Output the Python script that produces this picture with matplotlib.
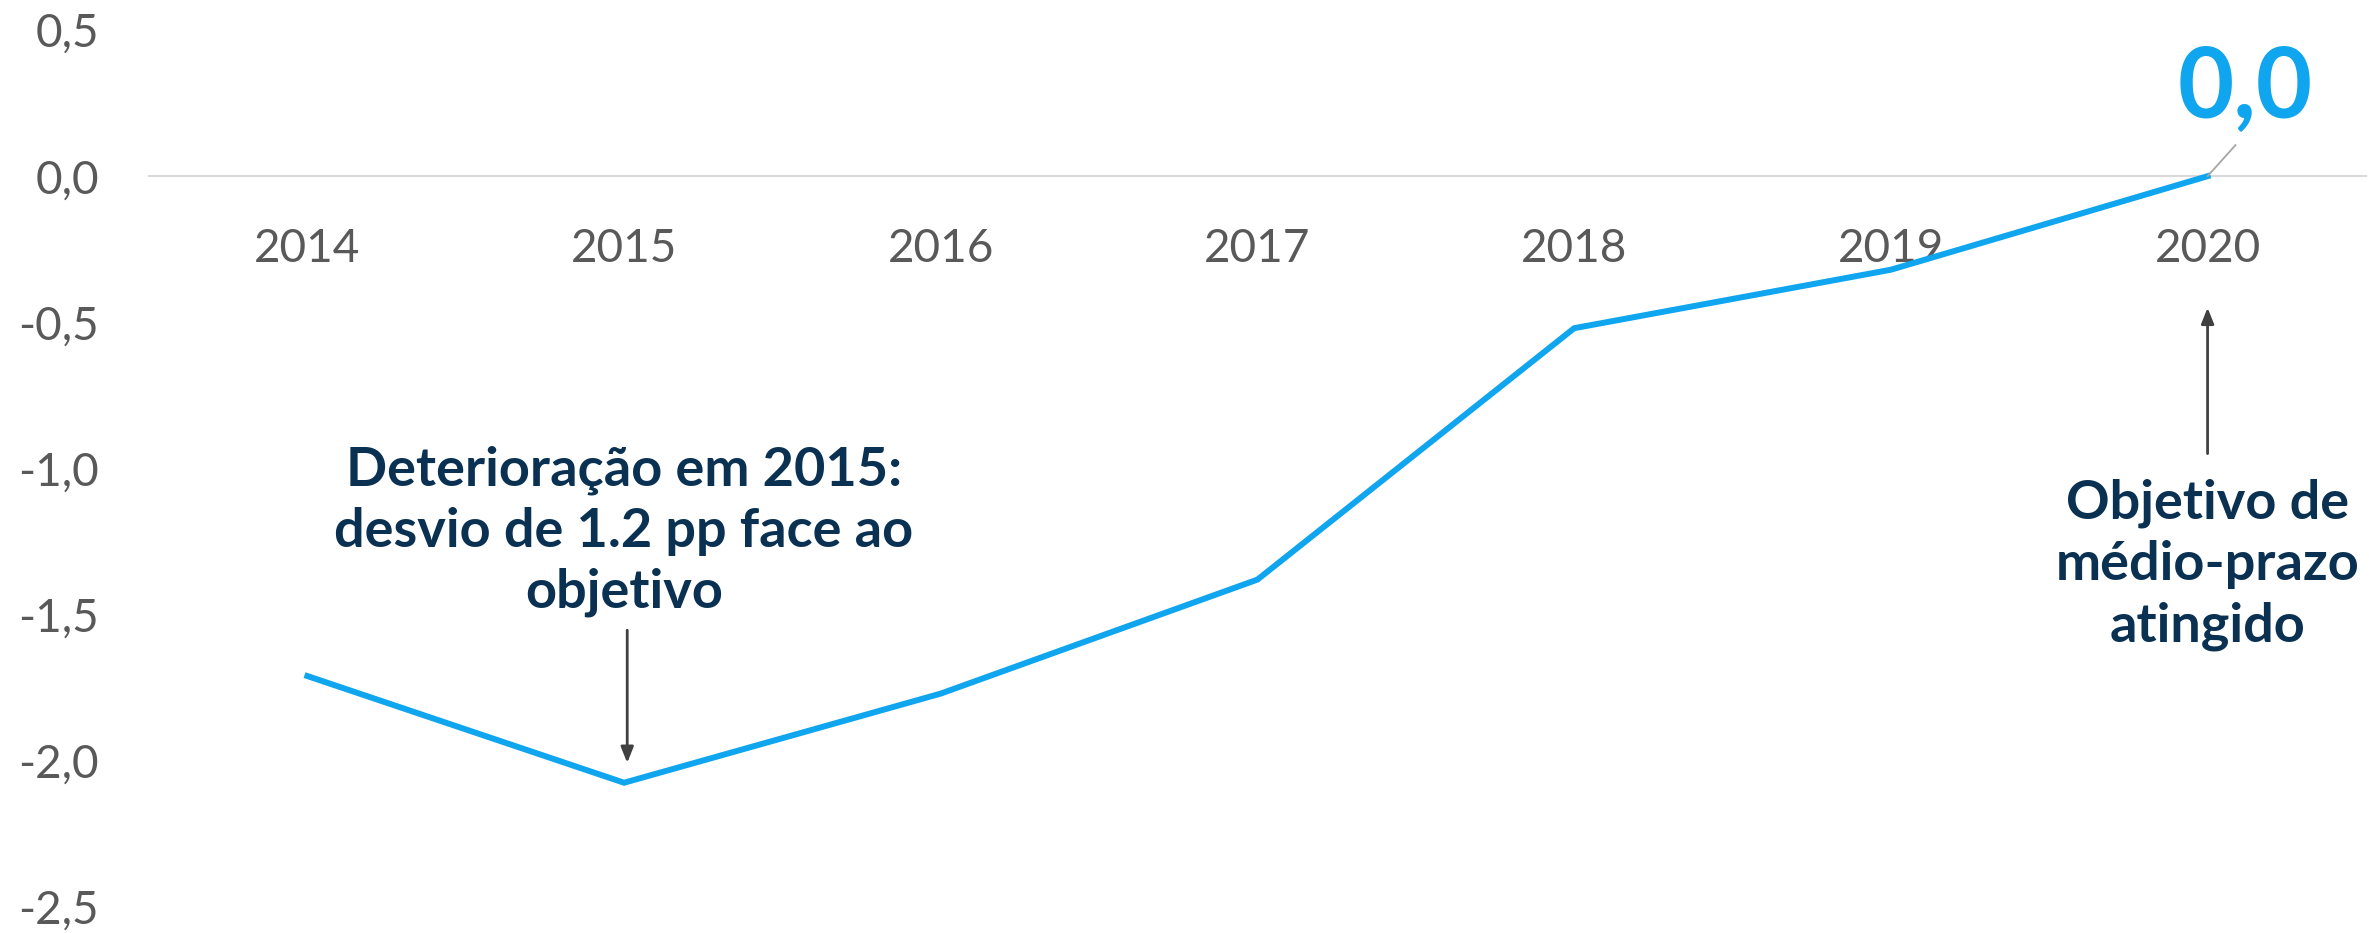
import matplotlib
matplotlib.use("Agg")
import matplotlib.pyplot as plt
from matplotlib.ticker import FuncFormatter

# data
years = ["2014", "2015", "2016", "2017", "2018", "2019", "2020"]
saldo = [-1.71, -2.075, -1.77, -1.38, -0.52, -0.32, 0.0]

BLUE = "#0fa5ef"
NAVY = "#0a3152"
GREY = "#595959"

plt.rcParams['font.family'] = ['Lato', 'DejaVu Sans']

fig = plt.figure(figsize=(23.69, 9.33), dpi=100)
ax = fig.add_axes([0.0629, 0.0279, 0.9358, 0.9399])

x = list(range(len(years)))
ax.plot(x, saldo, color=BLUE, lw=4.3, solid_joinstyle='miter', zorder=3)

ax.set_xlim(-0.5, len(years) - 0.5)
ax.set_ylim(-2.5, 0.5)
ax.set_yticks([0.5, 0.0, -0.5, -1.0, -1.5, -2.0, -2.5])
ax.yaxis.set_major_formatter(FuncFormatter(lambda v, p: ("%.1f" % v).replace(".", ",")))
ax.tick_params(axis='y', length=0, pad=36, labelsize=33, labelcolor=GREY)

ax.set_xticks(x)
ax.set_xticklabels(years)
ax.tick_params(axis='x', length=0, pad=37, labelsize=33, labelcolor=GREY)

for s in ['top', 'right', 'left']:
    ax.spines[s].set_visible(False)
ax.spines['bottom'].set_position(('data', 0))
ax.spines['bottom'].set_color('#d9d9d9')
ax.spines['bottom'].set_linewidth(1.5)

# annotations
ax.text(1.0, -1.215, "Deterioração em 2015:\ndesvio de 1.2 pp face ao\nobjetivo",
        ha='center', va='center', fontsize=39, fontweight='bold', color=NAVY,
        linespacing=1.3)
ax.annotate("", xy=(1.01, -2.007), xytext=(1.01, -1.553),
            arrowprops=dict(arrowstyle='-|>,head_length=0.95,head_width=0.38',
                            color='#404040', lw=2, shrinkA=0, shrinkB=0))

ax.text(6.0, -1.33, "Objetivo de\nmédio-prazo\natingido",
        ha='center', va='center', fontsize=39, fontweight='bold', color=NAVY,
        linespacing=1.3)
ax.annotate("", xy=(6.0, -0.45), xytext=(6.0, -0.949),
            arrowprops=dict(arrowstyle='-|>,head_length=0.95,head_width=0.38',
                            color='#404040', lw=2, shrinkA=0, shrinkB=0))

last = saldo[-1]
ax.annotate(("%.1f" % last).replace(".", ","), xy=(x[-1], last), xytext=(6.12, 0.297),
            ha='center', va='center', fontsize=70, fontweight='bold', color=BLUE,
            arrowprops=dict(arrowstyle='-', color='#a6a6a6', lw=1.3,
                            relpos=(0.5, 0.0), shrinkA=8, shrinkB=0))

fig.savefig("out.png", dpi=100, facecolor='white')
